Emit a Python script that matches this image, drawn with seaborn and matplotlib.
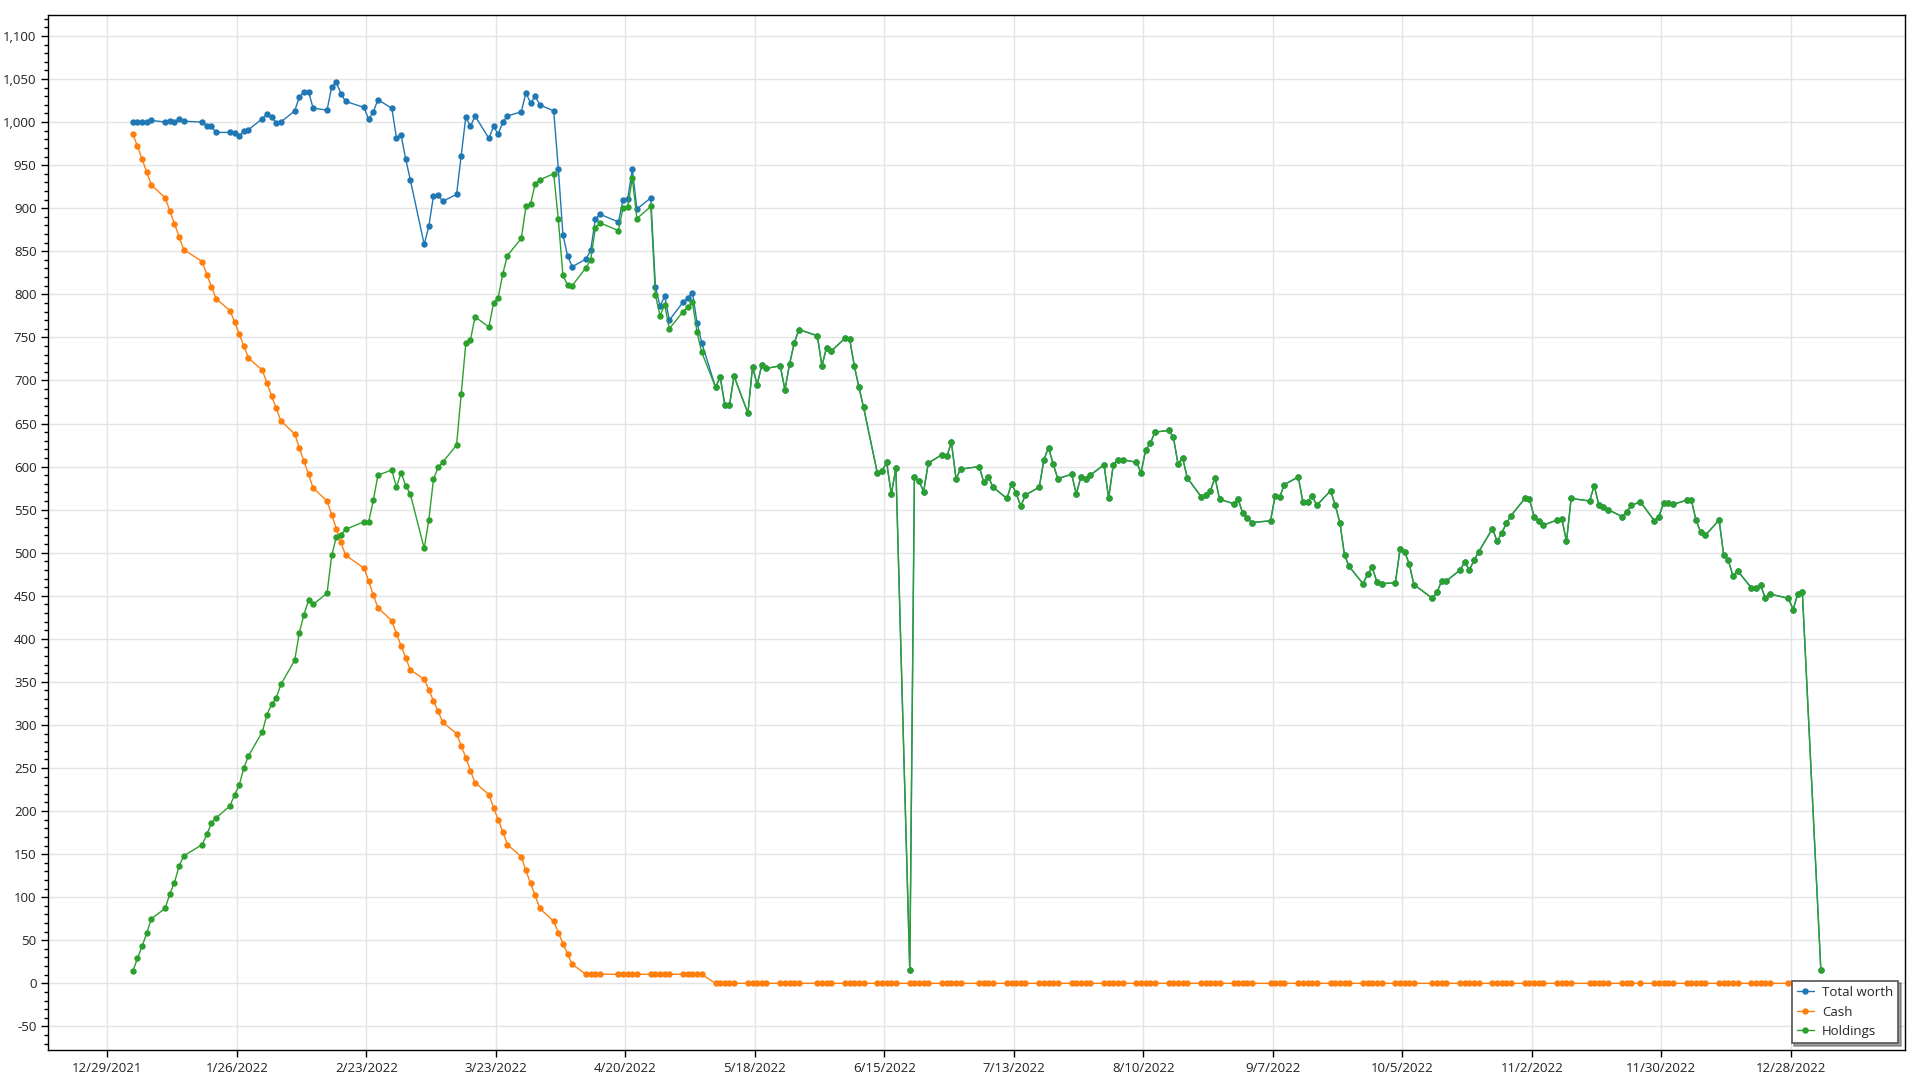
import pandas as pd
import matplotlib.pyplot as plt
import matplotlib.dates as mdates
import matplotlib.ticker as mticker
from matplotlib.lines import Line2D
import seaborn as sns

# trading calendar used by the backtest (Juneteenth was still in it)
holidays = ["2022-01-17", "2022-02-21", "2022-04-15", "2022-05-30", "2022-07-04",
            "2022-09-05", "2022-10-10", "2022-11-11", "2022-11-24", "2022-12-26",
            "2023-01-02"]
dates = pd.bdate_range("2022-01-03", "2023-01-03")
dates = dates[~dates.isin(pd.to_datetime(holidays))]

# Values read per month
total_worth = [
    # Jan
    1000, 1000, 1000, 1000, 1002, 1000, 1001, 1000, 1003, 1001, 1000, 996, 995, 988, 988, 987, 984, 990, 991, 1004,
    # Feb
    1009, 1006, 999, 1000, 1013, 1029, 1035, 1035, 1016, 1014, 1041, 1046, 1033, 1024, 1017, 1003, 1012, 1026, 1016,
    # Mar
    982, 985, 957, 933, 858, 879, 914, 915, 908, 916, 961, 1006, 995, 1007, 981, 995, 986, 1000, 1007, 1012, 1034, 1022, 1030,
    # Apr
    1020, 1013, 946, 869, 845, 832, 841, 851, 887, 893, 884, 910, 911, 945, 899, 912, 809, 786, 798, 770,
    # May
    791, 796, 802, 767, 744, 692, 704, 672, 671, 705, 662, 716, 695, 718, 714, 717, 689, 719, 743, 759, 752,
    # Jun
    717, 738, 734, 749, 748, 717, 692, 669, 592, 595, 605, 568, 598, 15, 588, 583, 571, 604, 614, 612, 628, 586,
    # Jul
    597, 600, 582, 588, 576, 563, 580, 569, 554, 567, 576, 608, 622, 603, 586, 591, 568, 588, 586, 590,
    # Aug
    602, 563, 602, 608, 608, 605, 593, 619, 627, 640, 642, 634, 603, 610, 587, 565, 567, 572, 587, 562, 557, 562, 546,
    # Sep
    540, 535, 537, 566, 565, 579, 588, 559, 559, 566, 555, 572, 555, 535, 497, 484, 464, 475, 483, 466, 464,
    # Oct
    465, 504, 501, 487, 463, 447, 454, 467, 467, 480, 489, 480, 491, 501, 528, 513, 523, 534, 543, 563,
    # Nov
    562, 542, 537, 532, 538, 539, 513, 563, 560, 578, 555, 553, 550, 542, 547, 555, 559, 537, 542, 558,
    # Dec
    558, 556, 561, 561, 538, 524, 520, 538, 497, 491, 473, 479, 459, 459, 462, 447, 452, 447, 434, 452, 454,
    # Jan 2023
    15,
]

cash = [
    # Jan
    986, 972, 957, 942, 927, 912, 897, 882, 867, 852, 838, 823, 809, 795, 781, 768, 754, 740, 726, 712,
    # Feb
    697, 682, 668, 653, 638, 622, 606, 591, 575, 560, 544, 528, 512, 497, 482, 467, 451, 436, 421,
    # Mar
    406, 392, 378, 364, 353, 341, 328, 316, 303, 290, 276, 262, 247, 233, 219, 204, 190, 176, 161, 147, 131, 116, 102,
    # Apr
    87, 72, 59, 46, 34, 22, 10.5, 10.5, 10.5, 10.5, 10.5, 10.5, 10.5, 10.5, 10.5, 10.5, 10.5, 10.5, 10.5, 10.5,
    # May
    10.5, 10.5, 10.5, 10.5, 10.5, 0, 0, 0, 0, 0, 0, 0, 0, 0, 0, 0, 0, 0, 0, 0, 0,
    # Jun
    0, 0, 0, 0, 0, 0, 0, 0, 0, 0, 0, 0, 0, 0, 0, 0, 0, 0, 0, 0, 0, 0,
    # Jul
    0, 0, 0, 0, 0, 0, 0, 0, 0, 0, 0, 0, 0, 0, 0, 0, 0, 0, 0, 0,
    # Aug
    0, 0, 0, 0, 0, 0, 0, 0, 0, 0, 0, 0, 0, 0, 0, 0, 0, 0, 0, 0, 0, 0, 0,
    # Sep
    0, 0, 0, 0, 0, 0, 0, 0, 0, 0, 0, 0, 0, 0, 0, 0, 0, 0, 0, 0, 0,
    # Oct
    0, 0, 0, 0, 0, 0, 0, 0, 0, 0, 0, 0, 0, 0, 0, 0, 0, 0, 0, 0,
    # Nov
    0, 0, 0, 0, 0, 0, 0, 0, 0, 0, 0, 0, 0, 0, 0, 0, 0, 0, 0, 0,
    # Dec
    0, 0, 0, 0, 0, 0, 0, 0, 0, 0, 0, 0, 0, 0, 0, 0, 0, 0, 0, 0, 0,
    # Jan 2023
    0,
]

holdings = [
    # Jan
    14, 29, 43, 58, 75, 87, 104, 117, 136, 148, 161, 173, 186, 192, 206, 219, 230, 250, 264, 292,
    # Feb
    312, 324, 331, 347, 375, 407, 428, 445, 440, 453, 497, 518, 521, 527, 536, 536, 561, 590, 596,
    # Mar
    576, 593, 578, 568, 505, 538, 585, 599, 605, 625, 684, 743, 747, 774, 762, 790, 796, 824, 845, 865, 902, 905, 928,
    # Apr
    933, 940, 887, 822, 811, 810, 831, 840, 877, 883, 874, 900, 901, 935, 888, 902, 799, 775, 788, 760,
    # May
    780, 785, 791, 756, 733, 692, 704, 672, 671, 705, 662, 716, 695, 718, 714, 717, 689, 719, 743, 759, 752,
    # Jun
    717, 738, 734, 749, 748, 717, 692, 669, 592, 595, 605, 568, 598, 15, 588, 583, 571, 604, 614, 612, 628, 586,
    # Jul
    597, 600, 582, 588, 576, 563, 580, 569, 554, 567, 576, 608, 622, 603, 586, 591, 568, 588, 586, 590,
    # Aug
    602, 563, 602, 608, 608, 605, 593, 619, 627, 640, 642, 634, 603, 610, 587, 565, 567, 572, 587, 562, 557, 562, 546,
    # Sep
    540, 535, 537, 566, 565, 579, 588, 559, 559, 566, 555, 572, 555, 535, 497, 484, 464, 475, 483, 466, 464,
    # Oct
    465, 504, 501, 487, 463, 447, 454, 467, 467, 480, 489, 480, 491, 501, 528, 513, 523, 534, 543, 563,
    # Nov
    562, 542, 537, 532, 538, 539, 513, 563, 560, 578, 555, 553, 550, 542, 547, 555, 559, 537, 542, 558,
    # Dec
    558, 556, 561, 561, 538, 524, 520, 538, 497, 491, 473, 479, 459, 459, 462, 447, 452, 447, 434, 452, 454,
    # Jan 2023
    15,
]

series_names = ["Total worth", "Cash", "Holdings"]
colors = ["#1f77b4", "#ff7f0e", "#2ca02c"]

# points sit at midday of each trading date
df = pd.DataFrame({"date": dates + pd.Timedelta(hours=12),
                   "Total worth": total_worth, "Cash": cash, "Holdings": holdings})
long_df = df.melt(id_vars="date", var_name="series", value_name="value")

sns.set_theme(style="white")
plt.rcParams["font.family"] = ["Open Sans", "DejaVu Sans"]
plt.rcParams["axes.unicode_minus"] = False

fig = plt.figure(figsize=(19.2, 10.8), dpi=100)
ax = fig.add_axes([0.0252, 0.0278, 0.9670, 0.9583])

sns.lineplot(data=long_df, x="date", y="value", hue="series", hue_order=series_names,
             palette=dict(zip(series_names, colors)), marker="o", markersize=4.6,
             markeredgewidth=0, linewidth=1.0, sort=False, legend=False, ax=ax)

# axes
ax.set_xlim(pd.Timestamp("2021-12-29") - pd.Timedelta(days=12.76),
            pd.Timestamp("2022-12-28") + pd.Timedelta(days=24.7))
ax.set_ylim(-77.4, 1124.3)

xticks = pd.date_range("2021-12-29", periods=14, freq="28D")
ax.xaxis.set_major_locator(mticker.FixedLocator(mdates.date2num(xticks)))
ax.xaxis.set_major_formatter(mticker.FuncFormatter(
    lambda v, p: "{d.month}/{d.day}/{d.year}".format(d=mdates.num2date(v))))
ax.yaxis.set_major_locator(mticker.MultipleLocator(50))
ax.yaxis.set_minor_locator(mticker.MultipleLocator(10))
ax.yaxis.set_major_formatter(mticker.StrMethodFormatter("{x:,.0f}"))

ax.set_xlabel("")
ax.set_ylabel("")
ax.grid(True, which="major", color="#e4e4e4", linewidth=1.0)
ax.set_axisbelow(True)
for s in ax.spines.values():
    s.set_color("black")
    s.set_linewidth(1.0)
ax.tick_params(axis="both", which="major", direction="out", length=5, width=1,
               color="black", labelsize=9.5, labelcolor="#222222", left=True, bottom=True)
ax.tick_params(axis="y", which="minor", direction="out", length=3, width=1,
               color="black", left=True)

handles = [Line2D([0], [0], color=c, marker="o", markersize=4.6, markeredgewidth=0,
                  linewidth=1.0) for c in colors]
leg = ax.legend(handles, series_names, loc="lower right", fontsize=9.5, frameon=True,
                fancybox=False, shadow=True, edgecolor="#555555",
                borderaxespad=0.5, handlelength=1.3, handletextpad=0.6,
                labelspacing=0.5, borderpad=0.4)
leg.get_frame().set_linewidth(1.2)

fig.savefig("out.png", dpi=100)
